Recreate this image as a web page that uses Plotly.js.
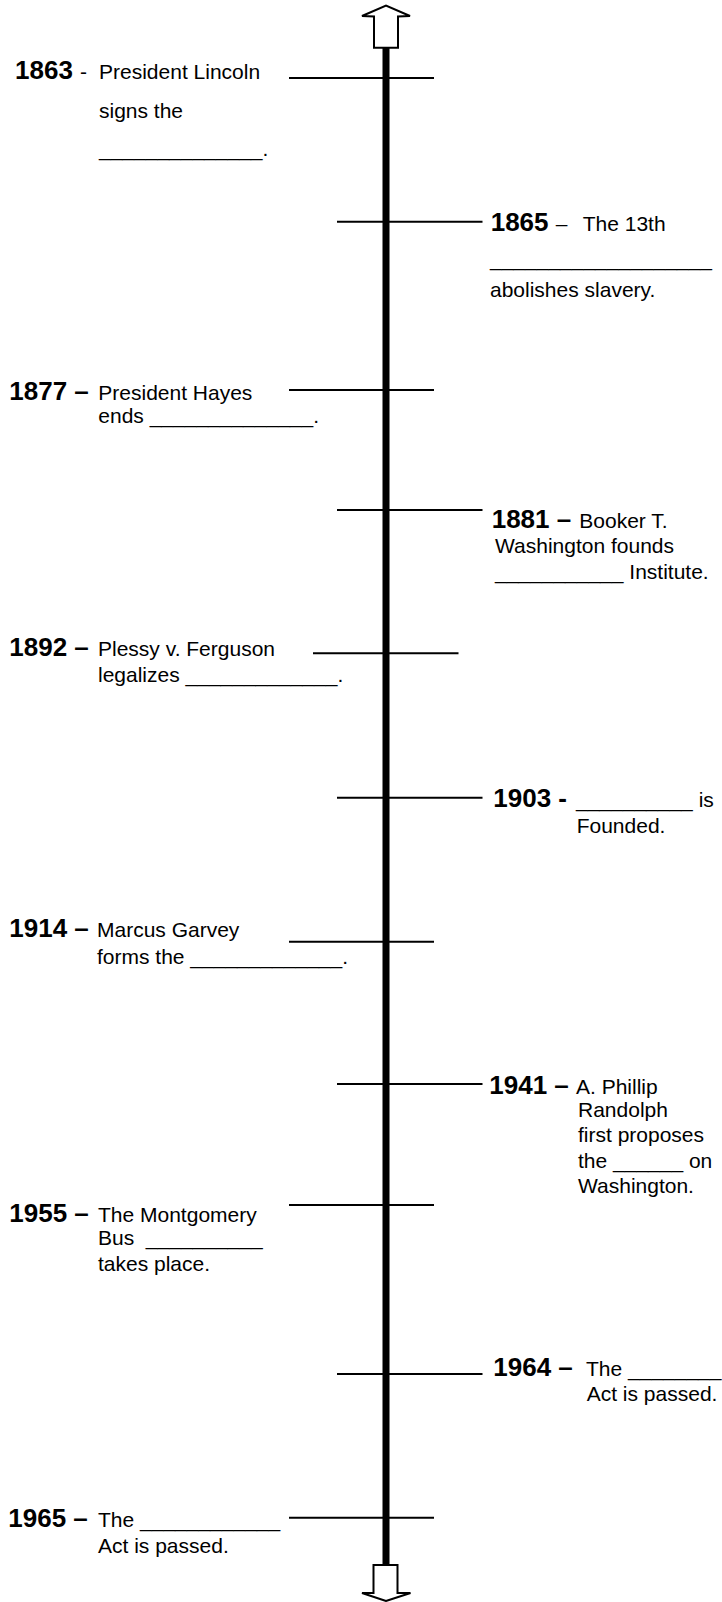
<!DOCTYPE html>
<html><head><meta charset="utf-8">
<script src="https://cdn.plot.ly/plotly-3.0.1.min.js"></script>
<style>html,body{margin:0;padding:0;background:#fff}#chart{width:722px;height:1602px}</style>
</head><body><div id="chart"></div>
<script>
// ---- data ----
const years = ["1863","1865","1877","1881","1892","1903","1914","1941","1955","1964","1965"];
const separators = ["-","–","–","–","–","-","–","–","–","–","–"];
const descriptions = [
  ["President Lincoln","signs the","______________."],
  ["The 13th","___________________","abolishes slavery."],
  ["President Hayes","ends ______________."],
  ["Booker T.","Washington founds","___________ Institute."],
  ["Plessy v. Ferguson","legalizes _____________."],
  ["__________ is","Founded."],
  ["Marcus Garvey","forms the _____________."],
  ["A. Phillip","Randolph","first proposes","the ______ on","Washington."],
  ["The Montgomery","Bus\u00a0 __________","takes place."],
  ["The ________","Act is passed."],
  ["The ____________","Act is passed."]
];
const sides = ["left","right","left","right","left","right","left","right","left","right","left"];

// ---- layout (pixel positions on the page) ----
const W = 722, H = 1602;
const axisX = 386;
const tickY  = [78,221.7,390,510,653.3,797.7,941.7,1084,1205,1374,1517.7];
const leftTick = [289,434], rightTick = [337,482.5], midTick = [313,458.5];
const yearX = [15,490.7,9.3,491.7,9.3,493.3,9.3,489.3,9.3,493.3,8.3];
const descX = [99,582.7,98.3,579.3,98,576,97,576,98,586,98];
const contX = [99,490,98.3,495,98,576.7,97,578,98,586.7,98];
const lineBase = [
  [79.3,117.7,156],
  [230.7,266,296.7],
  [400,423.3],
  [527.7,553.3,579],
  [656,681.7],
  [807.3,833.3],
  [937.3,964.3],
  [1094,1117.3,1142.3,1167.7,1192.7],
  [1221.7,1245,1270.7],
  [1376,1400.7],
  [1527.3,1552.7]
];
const boldSep = [false,false,true,true,true,true,true,true,true,true,true];
const YEAR_FS = 26, BODY_FS = 21;
const FONT = "Liberation Sans, Arial, sans-serif";

// ---- build traces ----
const tx = [], ty = [];
years.forEach((y, i) => {
  let r = sides[i] === "left" ? leftTick : rightTick;
  if (y === "1892") r = midTick;
  tx.push(r[0], r[1], null);
  ty.push(tickY[i], tickY[i], null);
});

const yx = [], yy = [], yt = [];
const bx = [], by = [], bt = [];
years.forEach((y, i) => {
  const sep = boldSep[i]
    ? "<b>" + y + " " + separators[i] + "</b>"
    : "<b>" + y + "</b> <span style='font-size:" + BODY_FS + "px'>" + separators[i] + "</span>";
  yx.push(yearX[i]); yy.push(lineBase[i][0] - 0.25 * YEAR_FS); yt.push(sep);
  descriptions[i].forEach((line, j) => {
    bx.push(j === 0 ? descX[i] : contX[i]);
    by.push(lineBase[i][j] - 0.25 * BODY_FS);
    bt.push(line);
  });
});

const traces = [
  {type:"scatter", mode:"lines", x:tx, y:ty, line:{color:"#000", width:2}, hoverinfo:"skip", showlegend:false, cliponaxis:false},
  {type:"scatter", mode:"text", x:yx, y:yy, text:yt, textposition:"middle right",
   textfont:{family:FONT, size:YEAR_FS, color:"#000"}, hoverinfo:"skip", showlegend:false, cliponaxis:false},
  {type:"scatter", mode:"text", x:bx, y:by, text:bt, textposition:"middle right",
   textfont:{family:FONT, size:BODY_FS, color:"#000"}, hoverinfo:"skip", showlegend:false, cliponaxis:false}
];

const upArrow = "M 374 47.7 L 374 16.5 L 362 16 L 386 5.5 L 410 16 L 398 16.5 L 398 47.7 Z";
const downArrow = "M 373.5 1565 L 373.5 1593 L 362 1593 L 386 1601 L 410.5 1593 L 397.5 1593 L 397.5 1565 Z";

const layout = {
  width: W, height: H,
  margin: {l:0, r:0, t:0, b:0, pad:0},
  paper_bgcolor: "#fff", plot_bgcolor: "#fff",
  xaxis: {range:[0, W], visible:false, fixedrange:true},
  yaxis: {range:[H, 0], visible:false, fixedrange:true},
  showlegend: false,
  shapes: [
    {type:"line", xref:"x", yref:"y", x0:axisX, x1:axisX, y0:47.7, y1:1565, line:{color:"#000", width:7}, layer:"below"},
    {type:"path", xref:"x", yref:"y", path:upArrow, fillcolor:"#fff", line:{color:"#000", width:2}},
    {type:"path", xref:"x", yref:"y", path:downArrow, fillcolor:"#fff", line:{color:"#000", width:2}}
  ]
};

Plotly.newPlot("chart", traces, layout, {staticPlot:true, displayModeBar:false});
</script>
</body></html>
